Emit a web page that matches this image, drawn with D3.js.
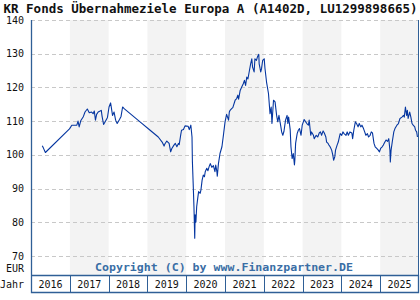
<!DOCTYPE html>
<html>
<head>
<meta charset="utf-8">
<script src="https://cdn.jsdelivr.net/npm/d3@7"></script>
<style>
  html, body { margin: 0; padding: 0; background: #fff; }
  svg { display: block; }
  text { font-family: "DejaVu Sans Mono", monospace; }
</style>
</head>
<body>
<div id="chart"></div>
<script>
// Fund price (EUR); dates in decimal years
const dates = [
  2016.29, 2016.32, 2016.37, 2016.99, 2017.05, 2017.18, 2017.21, 2017.24, 2017.28, 2017.35,
  2017.39, 2017.45, 2017.50, 2017.56, 2017.60, 2017.63, 2017.66, 2017.69, 2017.73, 2017.78,
  2017.81, 2017.83, 2017.87, 2017.91, 2017.97, 2018.01, 2018.05, 2018.07, 2018.10, 2018.14,
  2018.18, 2018.22, 2018.28, 2018.32, 2018.36, 2018.40, 2018.81, 2019.07, 2019.28, 2019.38,
  2019.43, 2019.45, 2019.50, 2019.56, 2019.60, 2019.63, 2019.68, 2019.72, 2019.76, 2019.80,
  2019.82, 2019.86, 2019.88, 2019.93, 2019.97, 2020.05, 2020.08, 2020.12, 2020.15, 2020.16,
  2020.18, 2020.20, 2020.22, 2020.23, 2020.25, 2020.27, 2020.30, 2020.32, 2020.36, 2020.38,
  2020.41, 2020.44, 2020.47, 2020.49, 2020.53, 2020.56, 2020.59, 2020.62, 2020.66, 2020.70,
  2020.74, 2020.76, 2020.79, 2020.80, 2020.83, 2020.87, 2020.92, 2020.96, 2021.00, 2021.04,
  2021.09, 2021.11, 2021.13, 2021.17, 2021.20, 2021.26, 2021.30, 2021.33, 2021.35, 2021.39,
  2021.43, 2021.47, 2021.50, 2021.53, 2021.56, 2021.59, 2021.63, 2021.66, 2021.69, 2021.71,
  2021.75, 2021.77, 2021.81, 2021.84, 2021.87, 2021.88, 2021.92, 2021.94, 2021.97, 2022.01,
  2022.03, 2022.07, 2022.12, 2022.16, 2022.19, 2022.21, 2022.25, 2022.29, 2022.33, 2022.36,
  2022.39, 2022.44, 2022.46, 2022.49, 2022.52, 2022.56, 2022.60, 2022.62, 2022.64, 2022.68,
  2022.70, 2022.73, 2022.76, 2022.79, 2022.80, 2022.82, 2022.86, 2022.89, 2022.92, 2022.94,
  2022.96, 2022.99, 2023.02, 2023.04, 2023.08, 2023.11, 2023.15, 2023.17, 2023.21, 2023.23,
  2023.28, 2023.30, 2023.35, 2023.39, 2023.43, 2023.46, 2023.49, 2023.53, 2023.56, 2023.60,
  2023.62, 2023.65, 2023.68, 2023.71, 2023.75, 2023.78, 2023.80, 2023.83, 2023.85, 2023.89,
  2023.92, 2023.95, 2023.97, 2024.01, 2024.04, 2024.07, 2024.12, 2024.15, 2024.18, 2024.22,
  2024.27, 2024.29, 2024.32, 2024.36, 2024.39, 2024.43, 2024.46, 2024.50, 2024.53, 2024.57,
  2024.60, 2024.63, 2024.67, 2024.70, 2024.74, 2024.77, 2024.80, 2024.84, 2024.87, 2024.91,
  2024.95, 2024.98, 2025.01, 2025.05, 2025.08, 2025.12, 2025.15, 2025.19, 2025.22, 2025.25,
  2025.26, 2025.28, 2025.31, 2025.35, 2025.38, 2025.43, 2025.47, 2025.51, 2025.56, 2025.60,
  2025.62, 2025.65, 2025.68, 2025.70, 2025.72, 2025.76, 2025.79, 2025.82, 2025.85, 2025.89,
  2025.91, 2025.94, 2025.96
];
const prices = [
  102.7, 102.0, 100.7, 107.7, 108.8, 108.8, 110.0, 108.3, 110.1, 111.4,
  112.7, 113.6, 112.5, 112.7, 112.2, 113.0, 110.3, 112.0, 112.7, 113.0,
  113.2, 111.5, 109.0, 109.8, 111.1, 114.2, 115.4, 114.0, 111.7, 112.7,
  110.3, 109.3, 110.5, 111.4, 114.2, 113.7, 109.8, 107.3, 105.3, 103.8,
  102.6, 103.2, 104.1, 103.4, 100.9, 101.9, 102.8, 103.4, 102.4, 103.4,
  103.0, 106.0, 107.3, 107.5, 108.6, 108.5, 107.5, 108.8, 105.3, 98.0,
  91.5, 84.6, 75.3, 82.2, 80.0, 84.6, 87.4, 89.1, 88.6, 89.6,
  92.5, 94.0, 93.5, 95.0, 96.0, 95.3, 96.5, 97.4, 96.3, 96.8,
  95.0, 97.0, 95.0, 93.7, 97.4, 100.4, 102.4, 106.0, 109.8, 112.0,
  110.3, 112.7, 113.2, 113.7, 114.0, 116.2, 116.7, 117.7, 116.5, 119.1,
  120.1, 121.1, 122.1, 120.6, 123.1, 122.5, 125.1, 127.0, 128.5, 126.0,
  124.6, 128.5, 128.0, 129.2, 129.8, 127.0, 124.6, 125.5, 128.0, 128.5,
  125.6, 121.6, 118.2, 112.2, 114.2, 109.3, 116.2, 115.7, 111.7, 109.8,
  111.7, 108.3, 106.8, 105.8, 107.0, 110.3, 111.7, 109.3, 111.2, 107.5,
  102.4, 98.9, 100.4, 97.0, 98.4, 103.4, 106.3, 107.3, 107.8, 106.8,
  105.8, 108.8, 109.8, 110.5, 109.8, 109.3, 108.8, 110.3, 105.8, 106.8,
  105.8, 104.8, 105.8, 105.3, 106.5, 106.8, 105.8, 107.1, 106.5, 105.3,
  103.8, 103.5, 102.9, 102.4, 101.4, 99.9, 98.4, 99.4, 101.4, 102.9,
  103.8, 105.3, 106.3, 105.8, 106.8, 106.3, 105.8, 106.8, 105.8, 106.8,
  106.5, 104.8, 107.3, 109.8, 109.3, 108.3, 109.3, 108.3, 108.8, 107.8,
  106.8, 105.8, 106.3, 105.3, 105.8, 106.8, 106.5, 103.4, 102.4, 101.9,
  101.4, 100.9, 101.9, 102.4, 102.9, 103.8, 104.4, 104.0, 104.8, 101.4,
  97.9, 101.4, 103.8, 106.8, 107.8, 108.8, 109.3, 110.8, 111.2, 111.7,
  111.2, 114.2, 111.7, 113.2, 110.8, 112.7, 111.2, 109.3, 108.8, 108.3,
  107.3, 106.8, 105.3
];
const years = [2016, 2017, 2018, 2019, 2020, 2021, 2022, 2023, 2024, 2025];
const yTicks = [70, 80, 90, 100, 110, 120, 130, 140];
const title = "KR Fonds Übernahmeziele Europa A (A1402D, LU1299898665)";
const credit = "Copyright (C) by www.Finanzpartner.DE";

const W = 420, H = 300;
const plot = { left: 31, right: 419, top: 20, bottom: 275 };
const axisRowH = 17;

const frameCol = "#2f5f96";

function decToDate(d) {
  const y = Math.floor(d);
  const start = new Date(y, 0, 1), end = new Date(y + 1, 0, 1);
  return new Date(+start + (d - y) * (end - start));
}

const series = dates.map((d, i) => ({ date: decToDate(d), value: prices[i] }));

const svg = d3.select("#chart").append("svg")
  .attr("width", W).attr("height", H);

const x = d3.scaleTime()
  .domain([new Date(2016, 0, 1), new Date(2026, 0, 1)])
  .range([plot.left, plot.right]);
const y = d3.scaleLinear().domain([70, 140]).range([256, 20]);

// alternating year bands
svg.append("g").selectAll("rect")
  .data(years.filter((yr, i) => i % 2 === 1))
  .join("rect")
  .attr("x", d => x(new Date(d, 0, 1)))
  .attr("width", d => x(new Date(d + 1, 0, 1)) - x(new Date(d, 0, 1)))
  .attr("y", plot.top)
  .attr("height", plot.bottom - plot.top)
  .attr("fill", "#f3f3f3");

// dashed grid
svg.append("g").selectAll("line")
  .data(yTicks)
  .join("line")
  .attr("x1", plot.left).attr("x2", plot.right)
  .attr("y1", d => Math.round(y(d)) + 0.5)
  .attr("y2", d => Math.round(y(d)) + 0.5)
  .attr("stroke", "#c8c8c8")
  .attr("stroke-dasharray", "4,3");

// y labels
svg.append("g").selectAll("text")
  .data(yTicks)
  .join("text")
  .attr("x", 24)
  .attr("y", d => y(d))
  .attr("dy", "0.35em")
  .attr("text-anchor", "end")
  .attr("font-size", 10)
  .attr("fill", "#111")
  .text(d => d);

svg.append("text").attr("x", 24).attr("y", 268).attr("dy", "0.35em")
  .attr("text-anchor", "end").attr("font-size", 10).attr("fill", "#111").text("EUR");
svg.append("text").attr("x", 24).attr("y", 284).attr("dy", "0.35em")
  .attr("text-anchor", "end").attr("font-size", 10).attr("fill", "#111").text("Jahr");

// copyright
svg.append("text")
  .attr("x", 224).attr("y", 271)
  .attr("text-anchor", "middle")
  .attr("font-size", 11).attr("font-weight", "bold")
  .attr("fill", "#3a6ea5")
  .attr("textLength", 258).attr("lengthAdjust", "spacingAndGlyphs")
  .text(credit);

// price line
const line = d3.line().x(d => x(d.date)).y(d => y(d.value));
svg.append("path")
  .datum(series)
  .attr("d", line)
  .attr("fill", "none")
  .attr("stroke", "#0536a0")
  .attr("stroke-width", 1.1)
  .attr("stroke-linejoin", "round");

// year row
const row = svg.append("g");
row.selectAll("text")
  .data(years)
  .join("text")
  .attr("x", d => (x(new Date(d, 0, 1)) + x(new Date(d + 1, 0, 1))) / 2)
  .attr("y", plot.bottom + axisRowH / 2 + 0.5)
  .attr("dy", "0.35em")
  .attr("text-anchor", "middle")
  .attr("font-size", 10)
  .attr("fill", "#111")
  .text(d => d);
row.selectAll("line.sep")
  .data(years.slice(1))
  .join("line")
  .attr("class", "sep")
  .attr("x1", d => Math.round(x(new Date(d, 0, 1))) + 0.5)
  .attr("x2", d => Math.round(x(new Date(d, 0, 1))) + 0.5)
  .attr("y1", plot.bottom).attr("y2", plot.bottom + axisRowH)
  .attr("stroke", frameCol);

// frame
svg.append("path")
  .attr("d", `M${plot.left + 0.5},${plot.top} V${plot.bottom + axisRowH + 0.5} H${plot.right - 0.5} V${plot.bottom + 0.5} H${plot.left + 0.5}`)
  .attr("fill", "none")
  .attr("stroke", frameCol)
  .attr("stroke-width", 1.3);
svg.append("line")
  .attr("x1", plot.right - 0.5).attr("x2", plot.right - 0.5)
  .attr("y1", plot.top).attr("y2", plot.bottom)
  .attr("stroke", frameCol).attr("stroke-width", 1);

// title
svg.append("text")
  .attr("x", 210.5).attr("y", 13)
  .attr("text-anchor", "middle")
  .attr("font-size", 12).attr("font-weight", "bold")
  .attr("fill", "#111")
  .attr("textLength", 414).attr("lengthAdjust", "spacingAndGlyphs")
  .text(title);
</script>
</body>
</html>
